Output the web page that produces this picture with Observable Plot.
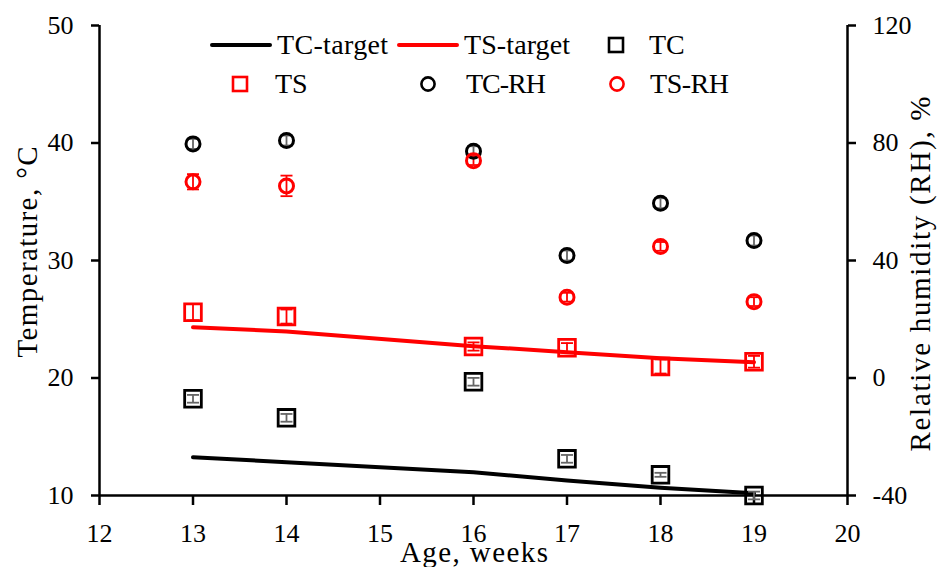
<!DOCTYPE html>
<html>
<head>
<meta charset="utf-8">
<script src="https://cdn.jsdelivr.net/npm/d3@7"></script>
<script src="https://cdn.jsdelivr.net/npm/@observablehq/plot@0.6"></script>
<style>
  body { margin: 0; background: #fff; }
  #wrap { position: relative; width: 942px; height: 567px; background: #fff; }
</style>
</head>
<body>
<div id="wrap"></div>
<script>
// ---- data ----
const weeks    = [13, 14, 16, 17, 18, 19];
const tcTarget = [13.26, 12.83, 11.98, 11.28, 10.66, 10.20];
const tsTarget = [24.32, 23.96, 22.71, 22.20, 21.69, 21.35];
const tc       = [18.23, 16.61, 19.68, 13.12, 11.76, 10.00];
const tcErr    = [0.33, 0.33, 0.33, 0.33, 0.17, 0.33];
const ts       = [25.60, 25.23, 22.68, 22.57, 20.98, 21.38];
const tsErr    = [0.70, 0.60, 0.35, 0.40, 0.60, 0.50];
const tcRH     = [79.7, 80.85, 77.2, 41.7, 59.5, 46.8];
const tcRHErr  = [1.7, 1.7, 1.7, 1.7, 1.7, 1.7];
const tsRH     = [66.8, 65.4, 74.0, 27.5, 44.8, 26.0];
const tsRHErr  = [2.6, 3.5, 1.5, 1.5, 1.5, 1.5];

const xTicks  = [12, 13, 14, 15, 16, 17, 18, 19, 20];
const yTicks  = [10, 20, 30, 40, 50];
const rhTicks = [-40, 0, 40, 80, 120];

const xLabel  = "Age, weeks";
const yLabel  = "Temperature, \u00B0C";
const y2Label = "Relative humidity (RH), %";

// secondary axis mapping: RH -40..120  <->  T 10..50
const rhToT = rh => (rh + 80) / 4;
const tToRh = t => 4 * t - 80;

const FONT = "'Liberation Serif', 'Times New Roman', serif";
const RED = "#ff0000";

const rows = (vals, errs, conv = v => v) =>
  weeks.map((w, i) => ({ w, v: conv(vals[i]), lo: conv(vals[i] - (errs ? errs[i] : 0)), hi: conv(vals[i] + (errs ? errs[i] : 0)) }));

const tcTargetRows = rows(tcTarget);
const tsTargetRows = rows(tsTarget);
const tcRows   = rows(tc, tcErr);
const tsRows   = rows(ts, tsErr);
const tcRHRows = rows(tcRH, tcRHErr, rhToT);
const tsRHRows = rows(tsRH, tsRHErr, rhToT);

// error-bar cap symbol (horizontal stroke)
const cap = { draw(ctx) { ctx.moveTo(-6, 0); ctx.lineTo(6, 0); } };

function errorBars(data, color, width) {
  return [
    Plot.ruleX(data, { x: "w", y1: "lo", y2: "hi", stroke: color, strokeWidth: width }),
    Plot.dot(data, { x: "w", y: "lo", symbol: cap, stroke: color, strokeWidth: width, r: 5 }),
    Plot.dot(data, { x: "w", y: "hi", symbol: cap, stroke: color, strokeWidth: width, r: 5 })
  ];
}

const chart = Plot.plot({
  width: 942,
  height: 567,
  marginLeft: 99,
  marginRight: 95,
  marginTop: 25,
  marginBottom: 72,
  x: { domain: [xTicks[0], xTicks[xTicks.length - 1]] },
  y: { domain: [yTicks[0], yTicks[yTicks.length - 1]] },
  style: { fontFamily: FONT, fontSize: "26px", color: "#000", background: "#fff", overflow: "visible" },
  marks: [
    // axes
    Plot.axisX({ ticks: xTicks, tickSize: 10, tickPadding: 18, tickFormat: d => String(d), label: null, strokeWidth: 2.5 }),
    Plot.axisY({ anchor: "left", ticks: yTicks, tickSize: 8, tickPadding: 18, tickFormat: d => String(d), label: null, strokeWidth: 2.5 }),
    Plot.axisY({ anchor: "right", ticks: rhTicks.map(rhToT), tickSize: 8, tickPadding: 17, tickFormat: t => String(Math.round(tToRh(t))), label: null, strokeWidth: 2.5 }),
    Plot.ruleX([xTicks[0], xTicks[xTicks.length - 1]], { stroke: "#000", strokeWidth: 2.5 }),
    Plot.ruleY([yTicks[0]], { stroke: "#000", strokeWidth: 2.5 }),

    // target lines
    Plot.line(tcTargetRows, { x: "w", y: "v", stroke: "#000", strokeWidth: 4, strokeLinecap: "round" }),
    Plot.line(tsTargetRows, { x: "w", y: "v", stroke: RED, strokeWidth: 4, strokeLinecap: "round" }),

    // error bars
    ...errorBars(tcRows, "#666", 1.8),
    ...errorBars(tsRows, RED, 1.8),
    ...errorBars(tcRHRows, "#666", 1.8),
    ...errorBars(tsRHRows, RED, 1.8),

    // markers
    Plot.dot(tcRows,   { x: "w", y: "v", symbol: "square", r: 9.4, stroke: "#000", strokeWidth: 2.8, fill: "none" }),
    Plot.dot(tsRows,   { x: "w", y: "v", symbol: "square", r: 9.4, stroke: RED, strokeWidth: 2.8, fill: "none" }),
    Plot.dot(tcRHRows, { x: "w", y: "v", symbol: "circle", r: 7, stroke: "#000", strokeWidth: 3, fill: "none" }),
    Plot.dot(tsRHRows, { x: "w", y: "v", symbol: "circle", r: 7, stroke: RED, strokeWidth: 3, fill: "none" })
  ]
});

const wrap = document.getElementById("wrap");
wrap.appendChild(chart);

// ---- overlay: axis titles and legend ----
const ov = d3.select(wrap).append("svg")
  .attr("width", 942).attr("height", 567)
  .style("position", "absolute").style("left", "0px").style("top", "0px")
  .style("pointer-events", "none")
  .attr("font-family", FONT).attr("fill", "#000");

// axis titles
ov.append("text").attr("x", 474).attr("y", 562).attr("text-anchor", "middle")
  .attr("font-size", 29).attr("textLength", 148).attr("lengthAdjust", "spacing").text(xLabel);
ov.append("text").attr("transform", "translate(37,252) rotate(-90)").attr("text-anchor", "middle")
  .attr("font-size", 29).attr("textLength", 211).attr("lengthAdjust", "spacing").text(yLabel);
ov.append("text").attr("transform", "translate(930,274) rotate(-90)").attr("text-anchor", "middle")
  .attr("font-size", 29).attr("textLength", 355).attr("lengthAdjust", "spacing").text(y2Label);

// legend
const legendItems = [
  { label: "TC-target", kind: "line",   color: "#000", sx: 241, tx: 277, w: 111, cy: 45 },
  { label: "TS-target", kind: "line",   color: RED,    sx: 428, tx: 464, w: 106, cy: 45 },
  { label: "TC",        kind: "square", color: "#000", sx: 616, tx: 649, w: null, cy: 45 },
  { label: "TS",        kind: "square", color: RED,    sx: 240, tx: 275, w: null, cy: 84 },
  { label: "TC-RH",     kind: "circle", color: "#000", sx: 428, tx: 466, w: 80,  cy: 84 },
  { label: "TS-RH",     kind: "circle", color: RED,    sx: 617, tx: 650, w: 79,  cy: 84 }
];

legendItems.forEach(it => {
  if (it.kind === "line") {
    ov.append("line").attr("x1", it.sx - 29).attr("x2", it.sx + 29)
      .attr("y1", it.cy).attr("y2", it.cy)
      .attr("stroke", it.color).attr("stroke-width", 4).attr("stroke-linecap", "round");
  } else if (it.kind === "square") {
    ov.append("rect").attr("x", it.sx - 7).attr("y", it.cy - 7).attr("width", 14).attr("height", 14)
      .attr("fill", "none").attr("stroke", it.color).attr("stroke-width", 2.6);
  } else {
    ov.append("circle").attr("cx", it.sx).attr("cy", it.cy).attr("r", 6.6)
      .attr("fill", "none").attr("stroke", it.color).attr("stroke-width", 2.6);
  }
  const t = ov.append("text").attr("x", it.tx).attr("y", it.cy + 9)
    .attr("font-size", 28).text(it.label);
  if (it.w) t.attr("textLength", it.w).attr("lengthAdjust", "spacing");
});
</script>
</body>
</html>
